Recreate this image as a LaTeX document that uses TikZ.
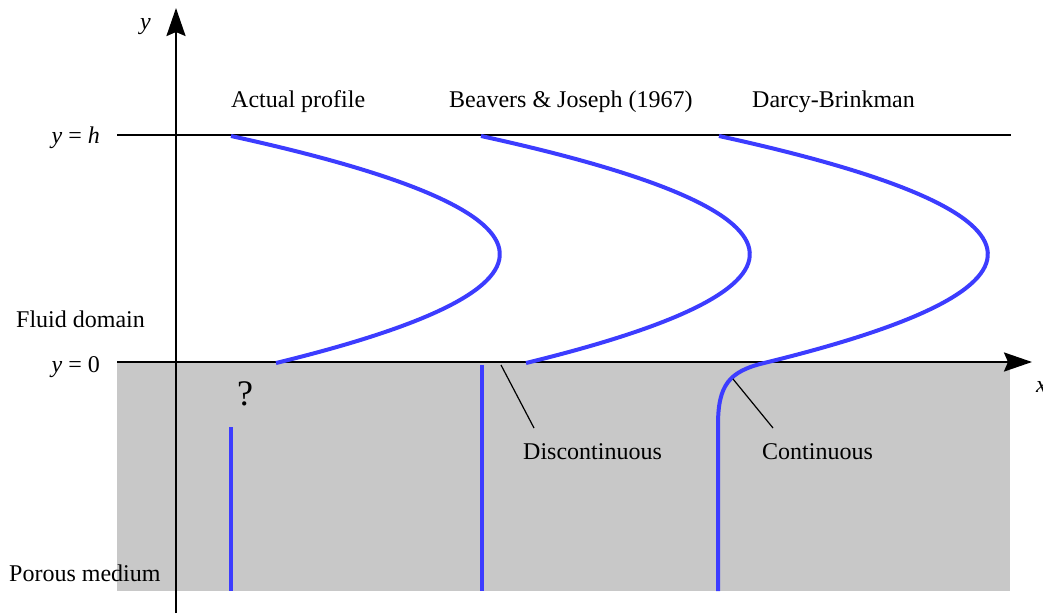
\documentclass[tikz,border=0pt]{standalone}
\usepackage{fontspec}
\setmainfont{Liberation Serif}
\usepackage{xcolor}
\usepackage{tikz}
\usetikzlibrary{arrows.meta}
\definecolor{profBlue}{HTML}{3C3CFF}
\definecolor{porousGrey}{HTML}{C8C8C8}

\begin{document}
\begin{tikzpicture}[
  x=1pt,
  y=-1pt,
  font=\fontsize{24}{28}\selectfont,
  axis/.style={draw=black,line width=2.5pt},
  axisarrow/.style={axis,-{Stealth[length=28pt,width=19pt,inset=4pt]}},
  profile/.style={draw=profBlue,line width=4pt},
  leader/.style={draw=black,line width=1.2pt},
  txt/.style={inner sep=0pt,anchor=base west},
  sidetxt/.style={inner sep=0pt,anchor=base east}
]
\useasboundingbox (0,0) rectangle (1043,615);

% Porous region.
\fill[porousGrey] (117,362) rectangle (1010,591);

% Axes and the upper wall.
\coordinate (ybot) at (176,613);
\coordinate (ytop) at (176,8);
\coordinate (xleft) at (117,362);
\coordinate (xright) at (1032,362);
\coordinate (hleft) at (117,135);
\coordinate (hright) at (1011,135);
\draw[axisarrow] (ybot) -- (ytop);
\draw[axisarrow] (xleft) -- (xright);
\draw[axis] (hleft) -- (hright);

\node[txt] (ylab) at (140,30) {\textit{y}};
\node[txt] (xlab) at (1036,392) {\textit{x}};
\node[sidetxt] (yh) at (100,143) {\textit{y} = \textit{h}};
\node[sidetxt] (yzero) at (100,372) {\textit{y} = 0};
\node[txt] (fluid) at (16,327) {Fluid domain};
\node[txt] (porous) at (9,581) {Porous medium};

% Profile titles.
\node[txt] (actual) at (231,107) {Actual profile};
\node[txt] (bj) at (449,107) {Beavers \& Joseph (1967)};
\node[txt] (db) at (752,107) {Darcy-Brinkman};

% Actual profile.
\coordinate (actTop) at (231,136);
\coordinate (actBot) at (276,363);
\draw[profile] (actTop) .. controls (573.7,211) and (588.7,286.7) .. (actBot);
\draw[profile] (231,427) -- (231,591);
\node[txt,font=\fontsize{36}{40}\selectfont] (unknown) at (237,405) {?};

% Beavers & Joseph.
\coordinate (bjTop) at (481,136);
\coordinate (bjBot) at (526,363);
\draw[profile] (bjTop) .. controls (823.7,211) and (838.7,286.7) .. (bjBot);
\draw[profile] (482,365) -- (482,591);

% Darcy-Brinkman.
\coordinate (dbTop) at (719,136);
\coordinate (dbMid) at (764,363);
\draw[profile] (dbTop) .. controls (1061.7,211) and (1076.7,286.7) .. (dbMid)
  .. controls (729,371.5) and (718,385) .. (718,425) -- (718,591);

% Slip annotations.
\node[txt] (disc) at (523,459) {Discontinuous};
\node[txt] (cont) at (762,459) {Continuous};
\coordinate (discPt) at (501,365);
\coordinate (discEnd) at (534,428);
\coordinate (contPt) at (733,379);
\coordinate (contEnd) at (773,428);
\draw[leader] (discPt) -- (discEnd);
\draw[leader] (contPt) -- (contEnd);

\end{tikzpicture}
\end{document}
